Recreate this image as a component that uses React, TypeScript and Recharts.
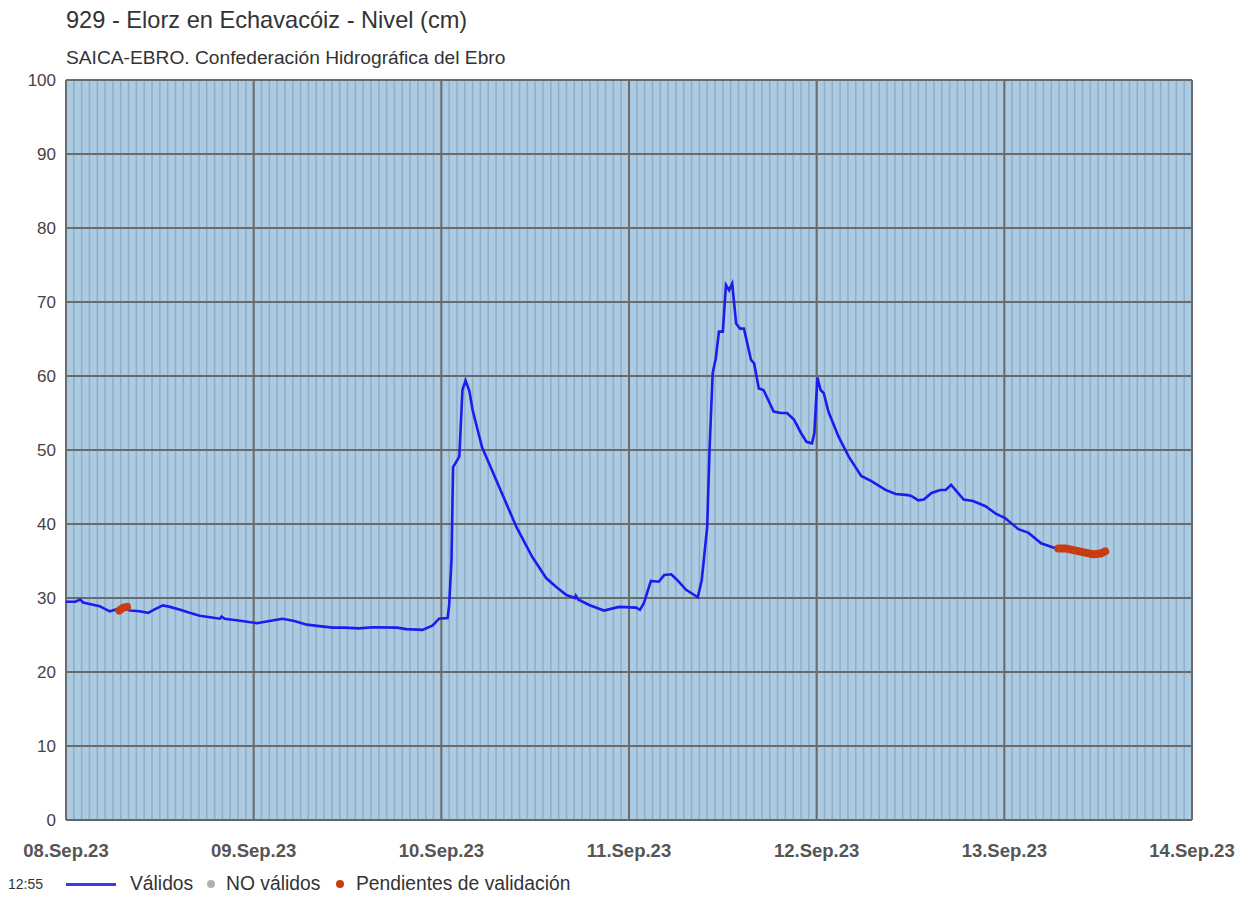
import React from 'react';
import { LineChart, Line, XAxis, YAxis, CartesianGrid } from 'recharts';

// Eje X en horas desde 08.Sep.23 00:00
const dayTicks = [0, 24, 48, 72, 96, 120, 144];
const dayLabels = ['08.Sep.23', '09.Sep.23', '10.Sep.23', '11.Sep.23', '12.Sep.23', '13.Sep.23', '14.Sep.23'];
const levelTicks = [0, 10, 20, 30, 40, 50, 60, 70, 80, 90, 100];
// rejilla horaria
const hourTicks = Array.from({ length: 145 }, (_, i) => i);

// Válidos
const validHours = [
  0, 1.2, 1.8, 2.2, 4.3, 5.6, 6.6, 7.4, 8.2, 9.4, 10.5, 11.4, 12.4, 13.3, 14.6, 15.8, 17.1, 18.4, 19.7, 19.9, 20.3, 21.8,
  24.4, 26.0, 27.7, 29.2, 30.8, 32.4, 34.1, 35.6, 37.5, 39.2, 42.3, 43.5, 45.6, 46.9, 47.7,
  48.8, 49.0, 49.3, 49.5, 49.9, 50.3, 50.7, 51.1, 51.6, 52.0, 53.2, 55.4, 57.6, 59.6, 61.4, 62.7, 64.0, 65.1, 65.2, 65.5, 66.9, 68.8, 70.7,
  72.9, 73.4, 73.9, 74.8, 75.8, 76.5, 77.4, 78.1, 79.3, 80.8, 81.3, 82.0, 82.3, 82.7, 83.1, 83.5, 84.0, 84.4, 84.8, 85.2, 85.7, 86.2, 86.7,
  87.6, 88.0, 88.6, 89.2, 90.5, 91.4, 92.2, 93.1, 94.0, 94.7, 95.4, 95.7,
  96.1, 96.5, 96.9, 97.5, 98.8, 100.1, 101.7, 103.0, 104.8, 106.1, 107.7, 108.1, 109.0, 109.7, 110.7, 111.8, 112.5, 113.2, 113.9, 114.8, 116.0, 117.6, 118.9,
  120.1, 121.8, 123.1, 124.7, 126.9,
];
const validLevels = [
  29.5, 29.5, 29.8, 29.4, 28.9, 28.2, 28.5, 28.6, 28.3, 28.2, 28.0, 28.5, 29.0, 28.8, 28.4, 28.0, 27.6, 27.4, 27.2, 27.5, 27.2, 27.0,
  26.6, 26.9, 27.2, 26.9, 26.4, 26.2, 26.0, 26.0, 25.9, 26.05, 26.0, 25.8, 25.7, 26.3, 27.2,
  27.3, 29.0, 35.1, 47.7, 48.4, 49.1, 58.1, 59.4, 57.9, 55.4, 50.4, 45.0, 39.6, 35.6, 32.7, 31.5, 30.4, 30.0, 30.3, 29.8, 29.05, 28.3, 28.8,
  28.7, 28.4, 29.3, 32.3, 32.2, 33.1, 33.2, 32.5, 31.1, 30.1, 32.4, 39.6, 50.0, 60.4, 62.4, 66.0, 66.0, 72.3, 71.6, 72.5, 67.1, 66.4, 66.4,
  62.2, 61.7, 58.3, 58.1, 55.2, 55.0, 55.0, 54.1, 52.3, 51.1, 50.9, 52.3,
  59.8, 58.1, 57.7, 55.2, 51.8, 49.1, 46.5, 45.8, 44.6, 44.05, 43.9, 43.8, 43.2, 43.3, 44.2, 44.6, 44.6, 45.3, 44.4, 43.3, 43.1, 42.4, 41.4,
  40.8, 39.3, 38.8, 37.4, 36.6,
];

// Pendientes de validación
const pendingHoursA = [6.8, 7.3, 7.8];
const pendingLevelsA = [28.3, 28.7, 28.8];
const pendingHoursB = [126.9, 127.8, 128.7, 129.6, 130.5, 131.4, 132.3, 132.9];
const pendingLevelsB = [36.7, 36.7, 36.5, 36.3, 36.1, 35.9, 36.0, 36.3];

const toRows = (hs: number[], vs: number[]) => hs.map((h, i) => ({ h, v: vs[i] }));
const validData = toRows(validHours, validLevels);
const pendingA = toRows(pendingHoursA, pendingLevelsA);
const pendingB = toRows(pendingHoursB, pendingLevelsB);

const FONT = '"Liberation Sans", Arial, sans-serif';
const BLUE = '#1c1ced';
const RED = '#c83c12';

const App: React.FC = () => {
  return (
    <div style={{ position: 'absolute', left: 0, top: 0, width: 1256, height: 897, background: '#fff', fontFamily: FONT }}>
      <div style={{ position: 'absolute', left: 66, top: 7, fontSize: 23.6, color: '#333', whiteSpace: 'nowrap' }}>
        929 - Elorz en Echavacóiz - Nivel (cm)
      </div>
      <div style={{ position: 'absolute', left: 66, top: 47, fontSize: 19.2, color: '#333', whiteSpace: 'nowrap' }}>
        SAICA-EBRO. Confederación Hidrográfica del Ebro
      </div>

      <LineChart width={1256} height={897} data={validData} margin={{ top: 80, right: 64, bottom: 37, left: 0 }}>
        <XAxis xAxisId="minor" dataKey="h" type="number" domain={[0, 144]} ticks={hourTicks} interval={0} hide />
        <CartesianGrid xAxisId="minor" horizontal={false} stroke="#90aec7" strokeWidth={1.5} fill="#aacbe2" fillOpacity={1} />
        <CartesianGrid stroke="#6b6b6b" strokeWidth={2} />
        <XAxis
          dataKey="h"
          type="number"
          domain={[0, 144]}
          ticks={dayTicks}
          interval={0}
          tickFormatter={(v: number) => dayLabels[dayTicks.indexOf(v)]}
          tick={{ fontSize: 18.5, fontWeight: 'bold', fill: '#555', fontFamily: FONT }}
          axisLine={{ stroke: '#666', strokeWidth: 2 }}
          tickLine={false}
          tickMargin={18}
          height={40}
        />
        <YAxis
          type="number"
          domain={[0, 100]}
          ticks={levelTicks}
          interval={0}
          tick={{ fontSize: 17, fill: '#444', fontFamily: FONT }}
          axisLine={false}
          tickLine={false}
          tickMargin={4}
          width={66}
        />
        <Line data={validData} dataKey="v" type="linear" stroke={BLUE} strokeWidth={2.6} dot={false} isAnimationActive={false} />
        <Line data={pendingA} dataKey="v" type="linear" stroke={RED} strokeWidth={8} strokeLinecap="round" strokeLinejoin="round" dot={false} isAnimationActive={false} />
        <Line data={pendingB} dataKey="v" type="linear" stroke={RED} strokeWidth={8} strokeLinecap="round" strokeLinejoin="round" dot={false} isAnimationActive={false} />
      </LineChart>

      <div style={{ position: 'absolute', left: 0, top: 873, width: 1256, height: 22, display: 'flex', alignItems: 'center', fontSize: 19.3, color: '#333', whiteSpace: 'nowrap' }}>
        <span style={{ position: 'absolute', left: 8, fontSize: 14 }}>12:55</span>
        <span style={{ position: 'absolute', left: 66, top: 10, width: 50, height: 3, background: '#3a3aee' }} />
        <span style={{ position: 'absolute', left: 130 }}>Válidos</span>
        <span style={{ position: 'absolute', left: 207, top: 7, width: 8, height: 8, borderRadius: 4, background: '#b0b0b0' }} />
        <span style={{ position: 'absolute', left: 226 }}>NO válidos</span>
        <span style={{ position: 'absolute', left: 336, top: 7, width: 8, height: 8, borderRadius: 4, background: RED }} />
        <span style={{ position: 'absolute', left: 356 }}>Pendientes de validación</span>
      </div>
    </div>
  );
};

export default App;
